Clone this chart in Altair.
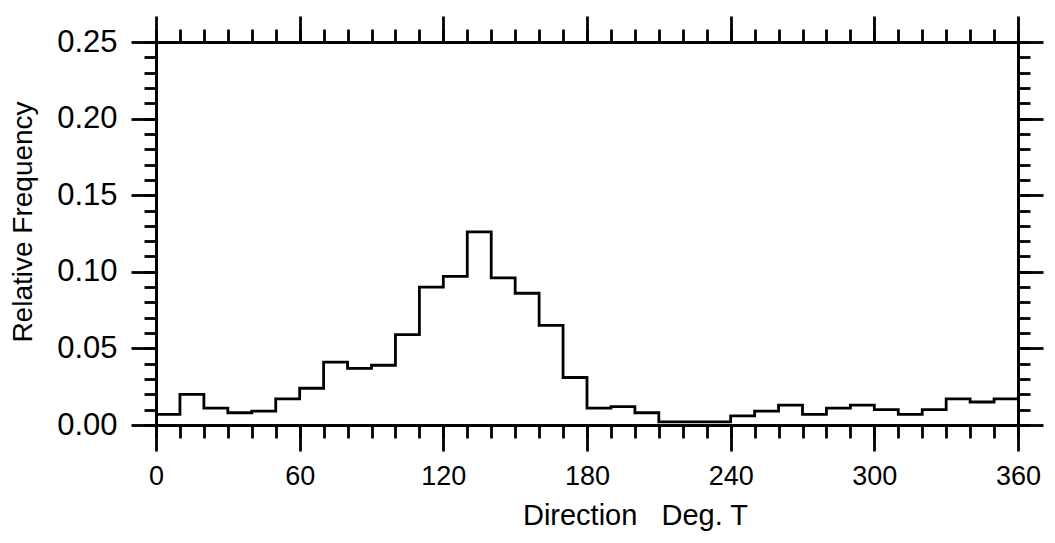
import altair as alt
import pandas as pd

# Bin starts (degrees true), 10-degree bins
bin_start = [0, 10, 20, 30, 40, 50, 60, 70, 80, 90, 100, 110, 120, 130, 140, 150, 160, 170,
             180, 190, 200, 210, 220, 230, 240, 250, 260, 270, 280, 290, 300, 310, 320, 330, 340, 350]
rel_freq = [0.007, 0.020, 0.011, 0.008, 0.009, 0.017, 0.024, 0.041, 0.037, 0.039, 0.059, 0.090,
            0.097, 0.126, 0.096, 0.086, 0.065, 0.031, 0.011, 0.012, 0.008, 0.002, 0.002, 0.002,
            0.006, 0.009, 0.013, 0.007, 0.011, 0.013, 0.010, 0.007, 0.010, 0.017, 0.015, 0.017]
bin_width = 10

x_major = [0, 60, 120, 180, 240, 300, 360]
x_minor = list(range(0, 361, 10))
y_major = [0.0, 0.05, 0.10, 0.15, 0.20, 0.25]
y_minor = [round(i * 0.01, 2) for i in range(26)]

# step outline: each bin start plus closing edge at the last bin end
dirs = bin_start + [bin_start[-1] + bin_width]
vals = rel_freq + [rel_freq[-1]]
df = pd.DataFrame({"dir": dirs, "freq": vals})

FONT = "Liberation Sans"
LW = 2.8
W, H = 862, 383
xscale = alt.Scale(domain=[0, 360], nice=False, zero=False)
yscale = alt.Scale(domain=[0, 0.25], nice=False, zero=False)

common = dict(grid=False, domainColor="black", domainWidth=LW, tickColor="black",
              tickWidth=LW, labelColor="black", titleColor="black",
              labelFont=FONT, titleFont=FONT)

bottom_major = alt.Axis(orient="bottom", values=x_major, tickSize=26, labelFontSize=27,
                        labelPadding=12, labelFlush=False,
                        title="Direction\u00a0\u00a0\u00a0Deg. T", titleFontSize=29,
                        titleFontWeight="normal", titlePadding=12, titleX=W / 2 + 48,
                        **common)
bottom_minor = alt.Axis(orient="bottom", values=x_minor, tickSize=13, labels=False,
                        title=None, **common)
top_major = alt.Axis(orient="top", values=x_major, tickSize=26, labels=False, title=None, **common)
top_minor = alt.Axis(orient="top", values=x_minor, tickSize=13, labels=False, title=None, **common)

left_major = alt.Axis(orient="left", values=y_major, format=".2f", tickSize=25,
                      labelFontSize=31, labelPadding=14, title="Relative Frequency",
                      titleFontSize=28, titleFontWeight="normal", titlePadding=19,
                      titleY=H / 2 - 12, **common)
left_minor = alt.Axis(orient="left", values=y_minor, tickSize=12, labels=False, title=None, **common)
right_major = alt.Axis(orient="right", values=y_major, tickSize=25, labels=False, title=None, **common)
right_minor = alt.Axis(orient="right", values=y_minor, tickSize=12, labels=False, title=None, **common)

base = alt.Chart(df)

hist = base.mark_line(interpolate="step-after", color="black", strokeWidth=LW).encode(
    x=alt.X("dir:Q", scale=xscale, axis=bottom_major),
    y=alt.Y("freq:Q", scale=yscale, axis=left_major),
)
minor_bl = base.mark_line(strokeOpacity=0).encode(
    x=alt.X("dir:Q", scale=xscale, axis=bottom_minor),
    y=alt.Y("freq:Q", scale=yscale, axis=left_minor),
)
major_tr = base.mark_line(strokeOpacity=0).encode(
    x=alt.X("dir:Q", scale=xscale, axis=top_major),
    y=alt.Y("freq:Q", scale=yscale, axis=right_major),
)
minor_tr = base.mark_line(strokeOpacity=0).encode(
    x=alt.X("dir:Q", scale=xscale, axis=top_minor),
    y=alt.Y("freq:Q", scale=yscale, axis=right_minor),
)

chart = alt.layer(hist, minor_bl, major_tr, minor_tr).resolve_axis(
    x="independent", y="independent"
).properties(
    width=W,
    height=H,
    autosize=alt.AutoSizeParams(type="none"),
    padding={"left": 148, "top": 34, "right": 29, "bottom": 110},
    background="white",
).configure_view(stroke=None)

chart.save("out.html", embed_options={"renderer": "svg", "actions": False})
